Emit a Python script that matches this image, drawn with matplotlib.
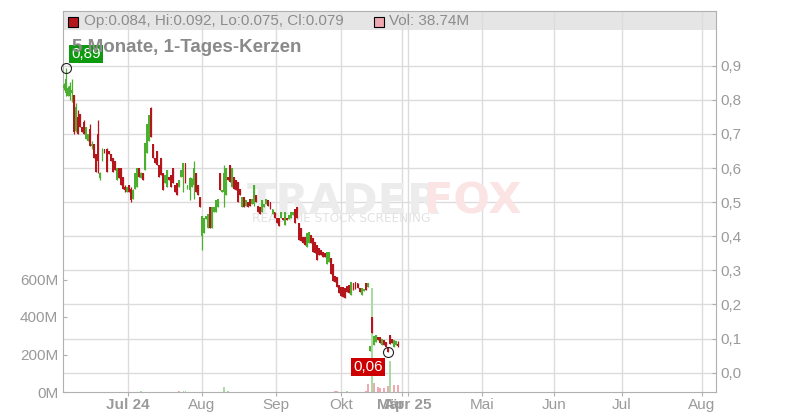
import matplotlib
matplotlib.use("Agg")
import matplotlib.pyplot as plt
import numpy as np
from matplotlib.patches import Rectangle
from matplotlib.transforms import blended_transform_factory

plt.rcParams['font.family'] = ['Liberation Sans', 'DejaVu Sans']

# ---------------- data ----------------
opens = [.835, .82, .81, .81, .82, .815, .71, .75, .76, .72, .735, .685, .68, .715, .665, .67, .64, .70, .57, .62,
         .655, .655, .65, .64, .63, .62, .565, .60, .60, .575, .545, .53, .55, .54, .51, .54, .545, .60, .57, .585,
         .595, .645, .68, .775, .67,
         .63, .65, .61, .63, .585, .555, .545, .575, .58, .60, .55, .555, .545, .575, .575, .615, .54, .535, .545, .55,
         .585, .55, .515, .40, .41, .45, .425, .485, .425, .47, .47, .485, .585, .53, .53, .52, .575, .61, .545, .575,
         .565, .56, .54, .485, .515, .49, .50, .51, .495,
         .495, .52, .49, .485, .47, .485, .495, .505, .50, .465, .47, .455, .455, .455, .455, .433, .453, .45, .455, .463,
         .48, .485, .44, .425, .398, .398, .37, .38, .405, .395, .383, .375, .365, .36, .355, .35, .32, .325, .335, .32,
         .285, .28, .257, .25, .25, .248, .254, .257, .228, .262, .265, .262, .248, .228, .24, .262, .252,
         .065, .163, .081, .09, .105, .105, .081, .096, .09, .075, .11, .10, .075, .081, .084]
highs = [.85, .894, .84, .853, .86, .815, .79, .77, .76, .72, .74, .72, .70, .73, .68, .67, .64, .74, .59, .66,
         .655, .66, .65, .64, .63, .62, .60, .60, .60, .575, .55, .545, .55, .545, .54, .585, .60, .60, .59, .585,
         .675, .73, .755, .778, .67,
         .63, .65, .61, .63, .585, .58, .595, .575, .58, .60, .55, .555, .565, .595, .615, .615, .55, .575, .57, .62,
         .585, .55, .515, .46, .455, .46, .465, .485, .485, .485, .505, .51, .585, .535, .61, .60, .575, .61, .60, .575,
         .565, .56, .54, .515, .515, .505, .50, .51, .51,
         .55, .52, .49, .485, .505, .495, .51, .505, .50, .48, .47, .455, .455, .47, .455, .47, .453, .463, .47, .47,
         .48, .485, .44, .425, .398, .398, .41, .413, .405, .395, .383, .375, .365, .36, .355, .35, .355, .355, .335, .32,
         .285, .28, .257, .25, .25, .248, .254, .257, .265, .262, .265, .262, .248, .248, .245, .262, .262,
         .078, .163, .107, .11, .105, .105, .10, .096, .09, .075, .11, .10, .096, .093, .092]
lows = [.83, .81, .81, .80, .795, .70, .705, .70, .72, .705, .70, .685, .68, .665, .655, .63, .59, .585, .565, .62,
        .645, .59, .64, .62, .59, .595, .565, .57, .55, .54, .53, .53, .53, .50, .51, .54, .545, .575, .57, .565,
        .595, .645, .68, .69, .63,
        .615, .61, .575, .58, .535, .555, .545, .565, .545, .555, .53, .52, .545, .575, .53, .555, .54, .506, .545, .51,
        .53, .52, .485, .36, .41, .45, .425, .425, .425, .47, .47, .485, .535, .53, .485, .52, .565, .56, .545, .54,
        .535, .50, .52, .485, .485, .49, .485, .49, .495,
        .49, .50, .47, .465, .47, .485, .495, .49, .48, .465, .455, .44, .43, .455, .448, .433, .448, .45, .455, .463,
        .44, .455, .39, .385, .38, .375, .37, .38, .38, .355, .35, .33, .345, .345, .34, .34, .32, .325, .29, .27,
        .265, .25, .235, .226, .222, .22, .237, .235, .228, .243, .245, .248, .237, .228, .24, .243, .252,
        .065, .116, .081, .09, .096, .088, .081, .081, .075, .06, .084, .088, .075, .081, .075]
closes = [.845, .86, .835, .84, .83, .705, .78, .70, .72, .705, .70, .72, .70, .665, .67, .63, .59, .62, .585, .655,
          .645, .59, .64, .62, .59, .595, .60, .57, .55, .54, .535, .545, .53, .506, .535, .585, .60, .575, .585, .565,
          .675, .73, .755, .69, .63,
          .615, .61, .575, .58, .535, .58, .595, .565, .545, .555, .53, .52, .565, .595, .615, .555, .55, .57, .57, .60,
          .53, .52, .485, .46, .455, .46, .465, .425, .485, .485, .505, .51, .535, .535, .585, .60, .565, .56, .60, .54,
          .535, .50, .52, .515, .485, .505, .485, .49, .51,
          .55, .50, .47, .465, .505, .495, .51, .49, .48, .48, .455, .44, .43, .47, .448, .47, .448, .463, .47, .47,
          .44, .455, .39, .385, .38, .375, .41, .413, .38, .355, .35, .33, .345, .345, .34, .34, .355, .355, .29, .27,
          .265, .25, .235, .226, .222, .22, .237, .235, .265, .243, .245, .248, .237, .248, .245, .243, .262,
          .078, .116, .107, .11, .096, .088, .10, .081, .075, .06, .084, .088, .096, .093, .079]

vol_at = [38, 57, 59, 60, 79, 81, 134, 135, 140, 149, 150, 152, 153, 155, 156, 158, 160, 161, 163, 165]
vol_m = [3, 4, 7, 3, 27, 5, 5, 4, 5, 3, 45, 553, 48, 27, 22, 19, 32, 167, 37, 37]
vol_up = [1, 0, 1, 1, 1, 1, 0, 0, 1, 0, 0, 1, 0, 0, 0, 0, 0, 1, 0, 0]

x_tick_pos = [31.6, 68.2, 104.8, 137.0, 167.0, 169.9, 206.5, 242.0, 275.6, 315.2]
x_tick_lab = ['Jul 24', 'Aug', 'Sep', 'Okt', 'Mär', 'Apr 25', 'Mai', 'Jun', 'Jul', 'Aug']
x_tick_bold = [True, False, False, False, True, True, False, False, False, False]
price_ticks = [0.0, 0.1, 0.2, 0.3, 0.4, 0.5, 0.6, 0.7, 0.8, 0.9]
vol_ticks = [0, 200, 400, 600]

title = "5 Monate, 1-Tages-Kerzen"
header_ohlc = "Op:0.084, Hi:0.092, Lo:0.075, Cl:0.079"
header_vol = "Vol: 38.74M"

# ---------------- style ----------------
UP, DOWN = '#4caf2f', '#b5161c'
VUP, VDOWN = '#a8dca2', '#eeaab0'
GRID = '#dcdcdc'
SPINE = '#b0b0b0'
TXT = '#9a9a9a'

W, H = 800, 420
fig = plt.figure(figsize=(8, 4.2), dpi=100)
ax = fig.add_axes([63 / W, 28 / H, 653 / W, 381 / H])
ax2 = ax.twinx()

N = len(opens)
x = np.arange(N)
o = np.array(opens); h = np.array(highs); l = np.array(lows); c = np.array(closes)
up = c >= o

ax.set_xlim(-0.5, 322.1)
ax.set_ylim(0, 2032)
ax2.set_ylim(-0.0566, 1.0607)

# header band
ax.add_patch(Rectangle((0, 1 - 19 / 381), 1, 19 / 381, transform=ax.transAxes,
                       facecolor='#e5e5e5', edgecolor='none', zorder=0.3))

# gridlines
ax.set_axisbelow(True)
ax.grid(axis='x', color=GRID, lw=1)
ax.grid(axis='y', visible=False)
btr = blended_transform_factory(ax.transAxes, ax2.transData)
for p in price_ticks:
    ax.plot([0, 1], [p, p], transform=btr, color=GRID, lw=1, zorder=0.5)

# watermark
ax.text(247 / W, 1 - 214 / H, 'TRADER', transform=fig.transFigure, fontsize=31, fontweight='bold',
        color='#ececec', family='DejaVu Sans', zorder=0.6)
ax.text(424 / W, 1 - 214 / H, 'FOX', transform=fig.transFigure, fontsize=31, fontweight='bold',
        color='#fbe4e4', family='DejaVu Sans', zorder=0.6)
ax.text(252 / W, 1 - 218 / H, 'REALTIME STOCK SCREENING', transform=fig.transFigure, fontsize=8.7,
        color='#e2e2e2', family='DejaVu Sans', va='center', zorder=0.6)

# volume
ax.bar(vol_at, vol_m, width=0.9, color=[VUP if u else VDOWN for u in vol_up], linewidth=0, zorder=2)

# candles
cols = np.where(up, UP, DOWN)
ax2.vlines(x, l, h, colors=cols, lw=0.9, zorder=3)
bottom = np.minimum(o, c)
height = np.maximum(np.abs(c - o), 0.005)
ax2.bar(x, height, bottom=bottom, width=0.95, color=cols, linewidth=0, zorder=4)

# extremes
i_hi = int(np.argmax(h)); i_lo = int(np.argmin(l))
ax2.plot([i_hi], [h[i_hi]], 'o', ms=7.2, mfc='none', mec='#222222', mew=0.8, zorder=6, clip_on=False)
ax2.plot([i_lo], [l[i_lo]], 'o', ms=7.2, mfc='none', mec='#222222', mew=0.8, zorder=6, clip_on=False)
ax2.annotate(f"{h[i_hi]:.2f}".replace('.', ','), xy=(i_hi, h[i_hi]), xytext=(5, 14),
             textcoords='offset pixels', ha='left', va='center', color='white', fontsize=11,
             bbox=dict(boxstyle='square,pad=0.14', fc='#0e9a0e', ec='none'), zorder=7)
ax2.annotate(f"{l[i_lo]:.2f}".replace('.', ','), xy=(i_lo, l[i_lo]), xytext=(-5, -15),
             textcoords='offset pixels', ha='right', va='center', color='white', fontsize=11,
             bbox=dict(boxstyle='square,pad=0.14', fc='#cc0000', ec='none'), zorder=7)

# axes / ticks
for sp in ax.spines.values():
    sp.set_color(SPINE)
for sp in ax2.spines.values():
    sp.set_visible(False)

ax.set_xticks(x_tick_pos)
ax.set_xticklabels(['' if t == 'Mär' else t for t in x_tick_lab])
for lab, b in zip(ax.get_xticklabels(), x_tick_bold):
    if b:
        lab.set_fontweight('bold')
for pos, t, b in zip(x_tick_pos, x_tick_lab, x_tick_bold):
    if t == 'Mär':
        ax.annotate(t, xy=(pos, 0), xycoords=('data', 'axes fraction'), xytext=(-8, -4.5),
                    textcoords='offset points', ha='center', va='top', fontsize=11, color=TXT,
                    fontweight='bold' if b else 'normal', annotation_clip=False)
ax.tick_params(axis='x', direction='out', length=3, width=0.8, color=SPINE, labelsize=11,
               labelcolor=TXT, pad=1.5)

ax.set_yticks(vol_ticks)
ax.set_yticklabels([f"{v}M" for v in vol_ticks])
ax.tick_params(axis='y', direction='in', length=3, width=0.8, color=SPINE, labelsize=11,
               labelcolor=TXT, pad=3.5)

ax2.set_yticks(price_ticks)
ax2.set_yticklabels([f"{p:.1f}".replace('.', ',') for p in price_ticks])
ax2.tick_params(axis='y', direction='in', length=3, width=0.8, color=SPINE, labelsize=11,
                labelcolor=TXT, pad=3)

# header and title
fig.patches.append(Rectangle((68 / W, 1 - 27 / H), 10 / W, 10 / H, transform=fig.transFigure,
                             facecolor=DOWN, edgecolor='black', lw=0.8))
fig.text(84 / W, 1 - 21 / H, header_ohlc, fontsize=11, color='#8c8c8c', va='center', ha='left')
fig.patches.append(Rectangle((374 / W, 1 - 27 / H), 10 / W, 10 / H, transform=fig.transFigure,
                             facecolor='#f0a8b0', edgecolor='black', lw=0.8))
fig.text(389 / W, 1 - 21 / H, header_vol, fontsize=11, color='#8c8c8c', va='center', ha='left')
fig.text(72 / W, 1 - 48 / H, title, fontsize=13.5, fontweight='bold', color='#8a8a8a',
         va='center', ha='left', zorder=10)

fig.savefig('out.png', dpi=100)
